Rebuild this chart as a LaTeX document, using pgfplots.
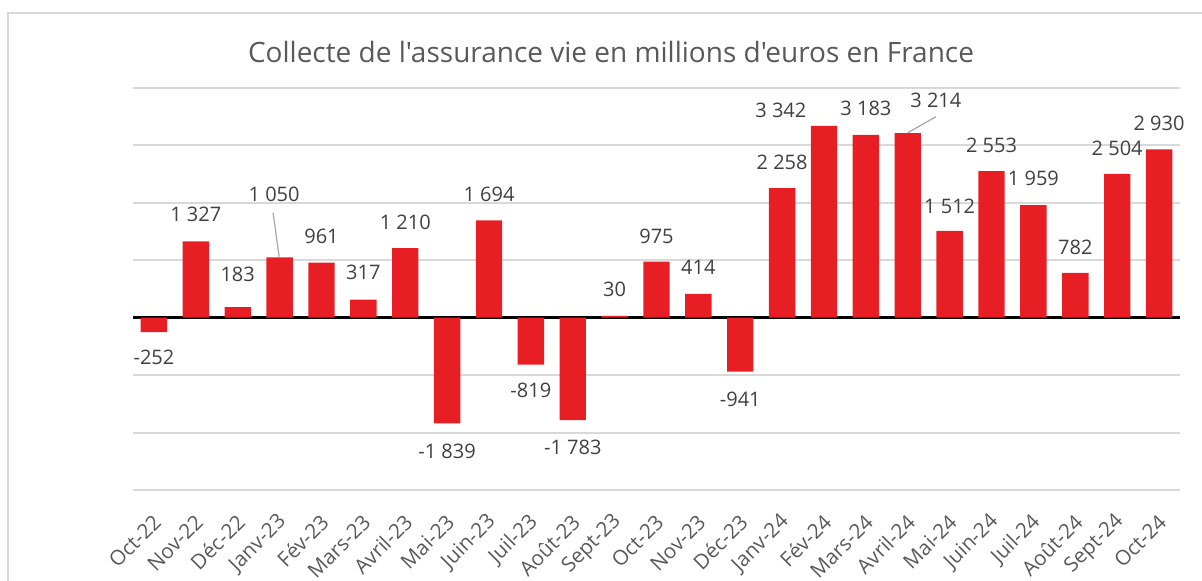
\documentclass[border=0pt]{standalone}
\usepackage{pgfplots}
\pgfplotsset{compat=1.18}
\usepackage{pgfplotstable}
\usepackage{fontspec}
\setmainfont{Open Sans}
\newfontfamily\plainfont{Open Sans}
\definecolor{barred}{RGB}{232,30,37}
\definecolor{gridc}{RGB}{217,217,217}
\definecolor{labc}{RGB}{64,64,64}
\definecolor{tickc}{RGB}{89,89,89}
\definecolor{leadc}{RGB}{166,166,166}

\pgfplotstableread[col sep=comma]{
x,y
0,-252
1,1327
2,183
3,1050
4,961
5,317
6,1210
7,-1839
8,1694
9,-819
10,-1783
11,30
12,975
13,414
14,-941
15,2258
16,3342
17,3183
18,3214
19,1512
20,2553
21,1959
22,782
23,2504
24,2930
}\bars

\pgfplotstableread[col sep=comma]{
lx,ly,lab
0,-697,-252
1,1793,1 327
2,749,183
2.87,2141,1 050
4,1410,961
5,783,317
6,1654,1 210
7,-2333,-1 839
8,2141,1 694
9,-1271,-819
10,-2263,-1 783
11,487,30
12,1410,975
13,870,414
14,-1428,-941
15,2699,2 258
14.97,3604,3 342
17,3639,3 183
18.67,3778,3 214
19,1933,1 512
20,2995,2 553
21,2420,1 959
22,1219,782
23,2942,2 504
24,3378,2 930
}\labels

\begin{document}
\begin{tikzpicture}
\useasboundingbox (0,0) rectangle (601pt,290.5pt);
\draw[gridc, line width=1pt] (4pt,0) -- (4pt,284pt) -- (610pt,284pt);
\node[text=tickc, font=\plainfont\fontsize{14}{17}\selectfont] at (305.5pt,264.5pt) {Collecte de l'assurance vie en millions d'euros en France};
\begin{axis}[
  at={(66.5pt,45.5pt)}, anchor=south west,
  scale only axis, width=523.5pt, height=201pt,
  xmin=-0.5, xmax=24.5, ymin=-3000, ymax=4000,
  ytick={-3000,-2000,...,4000},
  yticklabel=\empty,
  ymajorgrids, grid style={gridc, line width=1pt},
  extra y ticks={0}, extra y tick labels={},
  extra y tick style={grid style={black, line width=1.6pt}},
  axis line style={draw=none},
  major tick length=0pt,
  xtick={0,...,24},
  xticklabels={Oct-22,Nov-22,Déc-22,Janv-23,Fév-23,Mars-23,Avril-23,Mai-23,Juin-23,Juil-23,Août-23,Sept-23,Oct-23,Nov-23,Déc-23,Janv-24,Fév-24,Mars-24,Avril-24,Mai-24,Juin-24,Juil-24,Août-24,Sept-24,Oct-24},
  xticklabel style={xshift=2.5pt, yshift=-13.5pt, rotate=45, anchor=east, font=\fontsize{10.3}{12.3}\selectfont, text=tickc, inner sep=1pt},
  clip=false,
]
\addplot[ybar, bar width=0.63, fill=barred, draw=none] table[x=x,y=y] {\bars};
\addplot[leadc, line width=0.6pt] coordinates {(2.845,1828) (2.99,1062)};
\addplot[leadc, line width=0.6pt] coordinates {(18.67,3499) (18.0,3221)};
\addplot[draw=none, mark=none, nodes near coords, point meta=explicit symbolic,
  nodes near coords style={anchor=center, font=\fontsize{10}{12}\selectfont, text=labc, inner sep=0pt}]
  table[x=lx,y=ly,meta=lab] {\labels};
\end{axis}
\end{tikzpicture}
\end{document}
